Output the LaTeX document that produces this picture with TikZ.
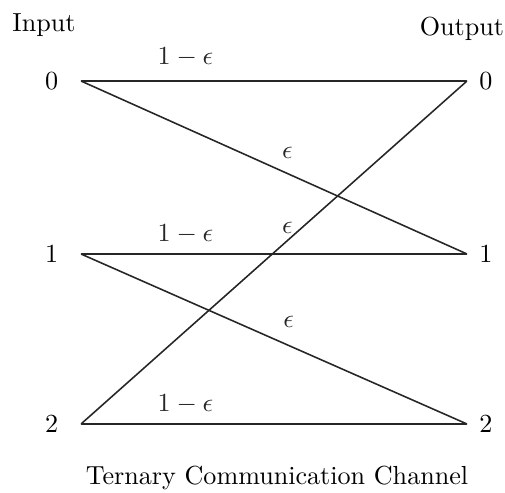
\documentclass[tikz,border=0pt]{standalone}
\begin{document}
\begin{tikzpicture}[x=0.383pt,y=-0.383pt,line cap=round,line join=round,
port/.style={inner sep=0pt,minimum size=0pt},
wire/.style={line width=.6pt,black!85}]
\useasboundingbox (0,0) rectangle (505,493);
\node[anchor=base] (inhead) at (44,32) {Input};
\node[anchor=base] (outhead) at (462,36) {Output};
\foreach \k/\y in {0/81,1/254,2/424}{
\node[port,label={[label distance=5pt]left:\k}] (in\k) at (81,\y) {};
\node[port,label={[label distance=1pt]right:\k}] (out\k) at (467,\y) {};}
\draw[wire] (in0)--node[pos=.27,above=2pt]{$1-\epsilon$}(out0);
\draw[wire] (in1)--node[pos=.27,above=.3pt]{$1-\epsilon$}(out1);
\draw[wire] (in2)--node[pos=.27,above=.3pt]{$1-\epsilon$}(out2);
\draw[wire] (in0)--node[pos=.535,above=2.2pt]{$\epsilon$}(out1);
\draw[wire] (in1)--node[pos=.538,above=3.1pt]{$\epsilon$}(out2);
\draw[wire] (in2)--node[pos=.573,left=0pt]{$\epsilon$}(out0);
\node[anchor=base] (caption) at (277,484) {Ternary Communication Channel};
\end{tikzpicture}
\end{document}
